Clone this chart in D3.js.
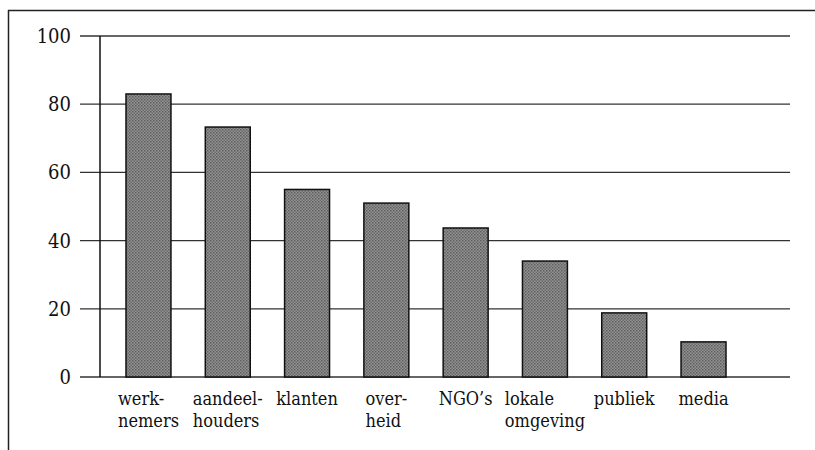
<!DOCTYPE html>
<html>
<head>
<meta charset="utf-8">
<script src="https://cdn.jsdelivr.net/npm/d3@7"></script>
<style>
    body { margin: 0; background: #fff; }
    svg { display: block; }
</style>
</head>
<body>
<div id="chart"></div>
<script>
// data
const categories = ["werknemers", "aandeelhouders", "klanten", "overheid", "NGO's", "lokale omgeving", "publiek", "media"];
const labelLines = [["werk-", "nemers"], ["aandeel-", "houders"], ["klanten"], ["over-", "heid"], ["NGO’s"], ["lokale", "omgeving"], ["publiek"], ["media"]];
const values = [83, 73.3, 55, 51, 43.7, 34, 18.8, 10.3];
const yTicks = [0, 20, 40, 60, 80, 100];

const width = 815, height = 450;

const svg = d3.select("#chart").append("svg")
    .attr("width", width)
    .attr("height", height)
    .style("font-family", "DejaVu Serif")
    .style("font-stretch", "condensed");

// halftone-ish fill for the bars
let defs = svg.append("defs");
let pat = defs.append("pattern")
    .attr("id", "dots")
    .attr("width", 3).attr("height", 3)
    .attr("patternUnits", "userSpaceOnUse");
pat.append("rect").attr("width", 3).attr("height", 3).attr("fill", "#929292");
pat.append("rect").attr("width", 1.5).attr("height", 1.5).attr("fill", "#5e5e5e");
pat.append("rect").attr("x", 1.5).attr("y", 1.5).attr("width", 1.5).attr("height", 1.5).attr("fill", "#6c6c6c");

// frame (top + left only, the rest is cut off)
svg.append("line")
    .attr("x1", 8).attr("x2", width).attr("y1", 10.5).attr("y2", 10.5)
    .attr("stroke", "#222").attr("stroke-width", 1.5);
svg.append("line")
    .attr("x1", 8.5).attr("x2", 8.5).attr("y1", 10).attr("y2", height)
    .attr("stroke", "#222").attr("stroke-width", 1.5);

// scales
let x = d3.scaleBand()
    .domain(categories)
    .range([126, 726])
    .paddingInner(0.433)
    .paddingOuter(0);

let y = d3.scaleLinear()
    .domain([0, 100])
    .range([377, 36]);

const axisX = 100, gridEnd = 790, tickStart = 80;

// gridlines + ticks
svg.append("g")
    .selectAll("line")
    .data(yTicks)
    .join("line")
    .attr("x1", tickStart)
    .attr("x2", gridEnd)
    .attr("y1", d => y(d))
    .attr("y2", d => y(d))
    .attr("stroke", "#333")
    .attr("stroke-width", 1.3);

// tick labels
svg.append("g")
    .selectAll("text")
    .data(yTicks)
    .join("text")
    .attr("x", 71)
    .attr("y", d => y(d))
    .attr("dy", "0.35em")
    .attr("text-anchor", "end")
    .attr("font-size", 20)
    .attr("fill", "#111")
    .text(d => d);

// bars
svg.append("g")
    .selectAll("rect")
    .data(values)
    .join("rect")
    .attr("x", (d, i) => x(categories[i]))
    .attr("y", d => y(d))
    .attr("width", x.bandwidth())
    .attr("height", d => y(0) - y(d))
    .attr("fill", "url(#dots)")
    .attr("stroke", "#111")
    .attr("stroke-width", 1.5);

// y axis line
svg.append("line")
    .attr("x1", axisX).attr("x2", axisX)
    .attr("y1", y(100)).attr("y2", y(0))
    .attr("stroke", "#111").attr("stroke-width", 1.5);

// category labels, lines left-aligned, block centred on the bar
let labels = svg.append("g")
    .selectAll("text")
    .data(labelLines)
    .join("text")
    .attr("font-size", 18)
    .attr("fill", "#111");

labels.each(function(lines, i) {
    let t = d3.select(this);
    lines.forEach((l, j) => {
        t.append("tspan").attr("y", 405 + j * 22).text(l);
    });
    let w = d3.max(t.selectAll("tspan").nodes(), n => n.getComputedTextLength());
    let cx = x(categories[i]) + x.bandwidth() / 2;
    t.selectAll("tspan").attr("x", cx - w / 2);
});
</script>
</body>
</html>
